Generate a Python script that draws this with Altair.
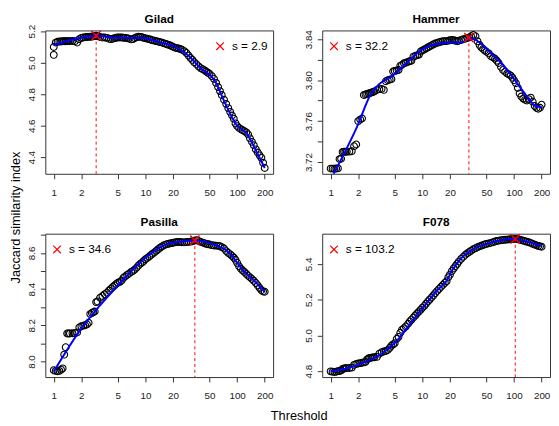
import altair as alt
import pandas as pd

FONT = "Liberation Sans"
W, H = 232, 146

THRESHOLDS = [1, 1.05, 1.1, 1.15, 1.2, 1.25, 1.3, 1.35, 1.4, 1.45,
              1.5, 1.6, 1.7, 1.8, 1.9,
              2, 2.1, 2.2, 2.3, 2.4, 2.5, 2.6, 2.7, 2.8, 2.9,
              3, 3.2, 3.4, 3.6, 3.8,
              4, 4.2, 4.4, 4.6, 4.8,
              5, 5.25, 5.5, 5.75,
              6, 6.3, 6.6,
              7, 7.3, 7.6,
              8, 8.4, 8.8, 9.2, 9.6,
              10, 10.5, 11, 11.5, 12, 12.6, 13.2, 13.8, 14.5, 15.2,
              16, 16.8, 17.6, 18.4, 19.2,
              20, 21, 22, 23, 24, 25, 26.5, 28, 29.5, 31, 32.5, 34, 36, 38,
              40, 42, 44, 46, 48,
              50, 53, 56, 59, 62, 65, 68, 72, 76,
              80, 84, 88, 92, 96,
              100, 105, 110, 115, 120, 126, 132, 138, 145, 152,
              160, 168, 176, 184, 192, 200]

GILAD_Y = [5.100, 5.128, 5.133, 5.135, 5.135, 5.136, 5.136, 5.136, 5.137, 5.137,
           5.137, 5.138, 5.136, 5.128, 5.150,
           5.158, 5.160, 5.162, 5.163, 5.164, 5.165, 5.166, 5.168, 5.170, 5.172,
           5.168, 5.163, 5.160, 5.160, 5.158,
           5.152, 5.150, 5.152, 5.156, 5.159,
           5.160, 5.160, 5.160, 5.159,
           5.158, 5.156, 5.153,
           5.148, 5.150, 5.156,
           5.162, 5.165, 5.164, 5.162, 5.158,
           5.155, 5.152, 5.150, 5.146, 5.142, 5.140, 5.137, 5.134, 5.131, 5.128,
           5.123, 5.119, 5.115, 5.111, 5.106,
           5.101, 5.096, 5.093, 5.090, 5.087, 5.083, 5.074, 5.062, 5.046, 5.030, 5.018, 5.004, 4.990, 4.977,
           4.966, 4.959, 4.952, 4.944, 4.937,
           4.930, 4.915, 4.897, 4.872, 4.846, 4.820, 4.795, 4.765, 4.738,
           4.712, 4.688, 4.665, 4.645, 4.615,
           4.598, 4.586, 4.578, 4.572, 4.566, 4.558, 4.545, 4.520, 4.498, 4.476,
           4.450, 4.430, 4.412, 4.396, 4.365, 4.332]
GILAD_EXTRA_T = [1.0]
GILAD_EXTRA_Y = [5.05]

HAMMER_Y = [3.7136, 3.7136, 3.7135, 3.7137, 3.7138, 3.7229, 3.7232, 3.7298, 3.7300, 3.7300,
            3.7300, 3.7302, 3.7305, 3.7355, 3.7372,
            3.7600, 3.7615, 3.7625, 3.7855, 3.7860, 3.7866, 3.7870, 3.7876, 3.7880, 3.7885,
            3.7890, 3.7905, 3.7912, 3.7915, 3.7905,
            3.7990, 3.8000, 3.8005, 3.8010, 3.8085,
            3.8090, 3.8095, 3.8100, 3.8140,
            3.8150, 3.8165, 3.8170,
            3.8180, 3.8185, 3.8190,
            3.8230, 3.8238, 3.8244, 3.8250, 3.8280,
            3.8290, 3.8300, 3.8310, 3.8320, 3.8330, 3.8340, 3.8350, 3.8358, 3.8364, 3.8370,
            3.8376, 3.8380, 3.8382, 3.8382, 3.8386,
            3.8390, 3.8392, 3.8390, 3.8385, 3.8380, 3.8385, 3.8392, 3.8400, 3.8406, 3.8412, 3.8418, 3.8430, 3.8442, 3.8430,
            3.8380, 3.8345, 3.8320, 3.8305, 3.8290,
            3.8278, 3.8262, 3.8235, 3.8222, 3.8210, 3.8190, 3.8168, 3.8130, 3.8100,
            3.8082, 3.8065, 3.8055, 3.8045, 3.8025,
            3.8000, 3.7970, 3.7925, 3.7870, 3.7840, 3.7820, 3.7808, 3.7802, 3.7815, 3.7830,
            3.7790, 3.7748, 3.7728, 3.7720, 3.7730, 3.7760]

PASILLA_Y = [7.952, 7.948, 7.946, 7.948, 7.955, 7.962, 8.038, 8.079, 8.155, 8.155,
             8.155, 8.156, 8.157, 8.160, 8.188,
             8.195, 8.198, 8.200, 8.205, 8.214, 8.262, 8.268, 8.272, 8.276, 8.328,
             8.332, 8.352, 8.362, 8.372, 8.380,
             8.392, 8.402, 8.412, 8.420, 8.428,
             8.435, 8.440, 8.447, 8.462,
             8.470, 8.478, 8.485,
             8.495, 8.500, 8.507,
             8.518, 8.530, 8.540, 8.547, 8.556,
             8.565, 8.572, 8.580, 8.588, 8.596, 8.604, 8.612, 8.621, 8.629, 8.636,
             8.643, 8.647, 8.650, 8.652, 8.654,
             8.656, 8.658, 8.660, 8.660, 8.660, 8.659, 8.658, 8.660, 8.661, 8.662, 8.664, 8.667, 8.670, 8.666,
             8.661, 8.657, 8.653, 8.650, 8.648,
             8.646, 8.643, 8.641, 8.640, 8.639, 8.637, 8.632, 8.624, 8.610,
             8.600, 8.592, 8.583, 8.574, 8.562,
             8.545, 8.526, 8.512, 8.503, 8.495, 8.484, 8.474, 8.465, 8.456, 8.446,
             8.434, 8.420, 8.406, 8.394, 8.387, 8.385]

F078_Y = [4.799, 4.797, 4.795, 4.797, 4.800, 4.801, 4.804, 4.813, 4.815, 4.816,
          4.817, 4.818, 4.820, 4.835, 4.840,
          4.843, 4.845, 4.847, 4.849, 4.852, 4.866, 4.872, 4.874, 4.876, 4.877,
          4.878, 4.880, 4.898, 4.906, 4.910,
          4.913, 4.918, 4.930, 4.942, 4.950,
          4.956, 4.980, 4.992, 5.015,
          5.032, 5.040, 5.050,
          5.065, 5.078, 5.088,
          5.100, 5.112, 5.124, 5.134, 5.144,
          5.155, 5.165, 5.178, 5.190, 5.200, 5.212, 5.224, 5.236, 5.248, 5.260,
          5.272, 5.283, 5.294, 5.303, 5.325,
          5.340, 5.360, 5.375, 5.388, 5.400, 5.413, 5.428, 5.440, 5.451, 5.460, 5.467, 5.474, 5.482, 5.488,
          5.493, 5.498, 5.502, 5.506, 5.509,
          5.512, 5.515, 5.518, 5.522, 5.525, 5.528, 5.530, 5.532, 5.534,
          5.535, 5.536, 5.537, 5.538, 5.539,
          5.540, 5.540, 5.538, 5.536, 5.533, 5.530, 5.527, 5.524, 5.521, 5.517,
          5.512, 5.508, 5.504, 5.500, 5.498, 5.496]

GILAD_FIT_T = [1, 1.5, 2.2, 2.9, 4.8, 8.5, 14, 22.9, 28, 40.7, 56.6, 72.4, 100, 128, 160, 200]
GILAD_FIT_Y = [5.111, 5.143, 5.163, 5.172, 5.158, 5.158, 5.132, 5.09, 5.055, 4.962, 4.89, 4.755, 4.60, 4.549, 4.445, 4.332]

HAMMER_FIT_T = [1.07, 1.97, 2.73, 3.35, 4.65, 7.0, 9.7, 13.5, 20.2, 27, 33, 39, 54, 81, 104, 133, 170, 200]
HAMMER_FIT_Y = [3.7078, 3.7558, 3.786, 3.7958, 3.8038, 3.8182, 3.8294, 3.8349, 3.8368, 3.8368, 3.8412, 3.839,
                3.8278, 3.8119, 3.799, 3.7862, 3.775, 3.7735]

PASILLA_FIT_T = [1, 2.03, 3.16, 5.0, 10, 16.5, 24.8, 34.6, 56.6, 78.5, 118, 165, 200]
PASILLA_FIT_Y = [7.944, 8.187, 8.307, 8.42, 8.573, 8.645, 8.663, 8.668, 8.645, 8.609, 8.501, 8.43, 8.384]

F078_FIT_T = [1, 1.5, 2.23, 3.64, 5.5, 7.5, 10.5, 14.6, 18.6, 21.1, 26, 35.8, 49.9, 69, 102, 133, 200]
F078_FIT_Y = [4.80, 4.815, 4.845, 4.90, 4.98, 5.07, 5.163, 5.254, 5.309, 5.363, 5.427, 5.482, 5.512, 5.531, 5.54, 5.527, 5.50]

NAMES = ["Gilad", "Hammer", "Pasilla", "F078"]
PEAK_S = [2.9, 32.2, 34.6, 103.2]
PEAK_Y = [5.172, 3.8416, 8.670, 5.540]

X_TICKS = [1, 2, 5, 10, 20, 50, 100, 200]
XDOM = [0.809, 247]
XPATH = "M -1 -1 L 1 1 M -1 1 L 1 -1"

for arr in (GILAD_Y, HAMMER_Y, PASILLA_Y, F078_Y):
    assert len(arr) == len(THRESHOLDS), (len(arr), len(THRESHOLDS))


def make_panel(name, ys, fit_t, fit_y, s, peak_y, ydom, yticks, label_expr, legend_x,
               extra_t=None, extra_y=None):
    df = pd.DataFrame({"t": list(THRESHOLDS) + list(extra_t or []),
                       "y": list(ys) + list(extra_y or [])})
    fit = pd.DataFrame({"t": fit_t, "y": fit_y})
    pk = pd.DataFrame({"t": [s], "y": [peak_y], "label": [f"s = {s}"], "name": [name]})

    x = alt.X("t:Q", scale=alt.Scale(type="log", domain=XDOM, nice=False),
              axis=alt.Axis(values=X_TICKS, format="d", title=None, labelPadding=9,
                            labelOverlap=False, labelFlush=False))
    y = alt.Y("y:Q", scale=alt.Scale(domain=ydom, nice=False, zero=False),
              axis=alt.Axis(values=yticks, labelExpr=label_expr, title=None, labelAngle=270,
                            labelAlign="center", labelBaseline="bottom", labelPadding=4,
                            labelOverlap=False, labelFlush=False))

    points = alt.Chart(df).mark_point(shape="circle", filled=False, size=48, color="black",
                                      strokeWidth=1.1, opacity=1, clip=True).encode(x=x, y=y)
    line = alt.Chart(fit).mark_line(color="#0000FF", strokeWidth=2, interpolate="monotone",
                                    clip=True).encode(x=x, y=y)
    rule = alt.Chart(pk).mark_rule(color="#FF0000", strokeDash=[3, 3], strokeWidth=1).encode(
        x=x, y=y, y2=alt.value(H))
    peak = alt.Chart(pk).mark_point(shape=XPATH, size=90, color="#FF0000", strokeWidth=1.5,
                                    filled=False, opacity=1).encode(x=x, y=y)
    leg_sym = alt.Chart(pk).mark_point(shape=XPATH, size=60, color="#FF0000", strokeWidth=1.2,
                                       filled=False, opacity=1).encode(
        x=alt.value(legend_x), y=alt.value(16))
    leg_txt = alt.Chart(pk).mark_text(align="left", baseline="middle", fontSize=12, font=FONT,
                                      color="black").encode(
        x=alt.value(legend_x + 12), y=alt.value(16), text="label:N")
    title = alt.Chart(pk).mark_text(align="center", baseline="middle", fontSize=12, font=FONT,
                                    fontWeight="bold", color="black").encode(
        x=alt.value(W / 2), y=alt.value(-12), text="name:N")

    return alt.layer(points, line, rule, peak, leg_sym, leg_txt, title).properties(
        width=W, height=H)


p1 = make_panel(NAMES[0], GILAD_Y, GILAD_FIT_T, GILAD_FIT_Y, PEAK_S[0], PEAK_Y[0],
                [4.295, 5.205], [4.4, 4.6, 4.8, 5.0, 5.2], "format(datum.value, '.1f')", 178,
                GILAD_EXTRA_T, GILAD_EXTRA_Y)
p2 = make_panel(NAMES[1], HAMMER_Y, HAMMER_FIT_T, HAMMER_FIT_Y, PEAK_S[1], PEAK_Y[1],
                [3.7085, 3.8486], [3.72, 3.74, 3.76, 3.78, 3.80, 3.82, 3.84],
                "round(datum.value * 100) % 4 == 0 ? format(datum.value, '.2f') : ''", 12)
p3 = make_panel(NAMES[2], PASILLA_Y, PASILLA_FIT_T, PASILLA_FIT_Y, PEAK_S[2], PEAK_Y[2],
                [7.914, 8.706], [8.0, 8.1, 8.2, 8.3, 8.4, 8.5, 8.6, 8.7],
                "round(datum.value * 10) % 2 == 0 ? format(datum.value, '.1f') : ''", 12)
p4 = make_panel(NAMES[3], F078_Y, F078_FIT_T, F078_FIT_Y, PEAK_S[3], PEAK_Y[3],
                [4.767, 5.569], [4.8, 5.0, 5.2, 5.4], "format(datum.value, '.1f')", 12)

grid = alt.vconcat(
    alt.hconcat(p1, p2, spacing=29),
    alt.hconcat(p3, p4, spacing=29),
    spacing=17,
).properties(title=alt.TitleParams("Threshold", orient="bottom", anchor="middle", fontSize=13,
                                   fontWeight="normal", font=FONT, color="black", offset=9, dx=11))

chart = alt.vconcat(grid).properties(
    title=alt.TitleParams("Jaccard similarity index", orient="left", anchor="middle", fontSize=13,
                          fontWeight="normal", font=FONT, color="black", offset=3),
    padding={"left": 2, "top": 0, "right": 0, "bottom": 0},
).configure_view(stroke="#333", strokeWidth=1).configure_axis(
    domain=False, grid=False, tickSize=5, tickColor="#333", tickWidth=1,
    labelFont=FONT, labelFontSize=10, labelColor="#222")

chart.save("out.html", embed_options={"renderer": "svg", "actions": False})
